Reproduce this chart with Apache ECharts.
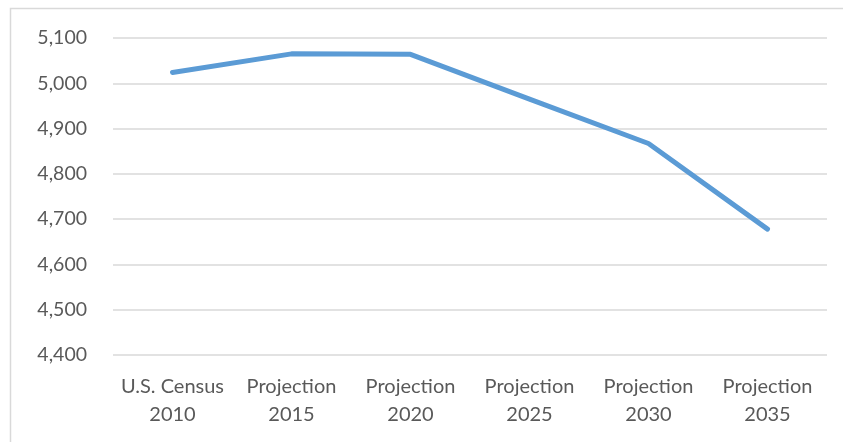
<!DOCTYPE html>
<html>
<head>
<meta charset="utf-8">
<script src="https://cdn.jsdelivr.net/npm/echarts@6/dist/echarts.min.js"></script>
<style>
  html, body { margin: 0; padding: 0; background: #fff; }
  #chart { width: 843px; height: 442px; }
</style>
</head>
<body>
<div id="chart"></div>
<script>
// 数据
var categories = ['U.S. Census\n2010', 'Projection\n2015', 'Projection\n2020', 'Projection\n2025', 'Projection\n2030', 'Projection\n2035'];
var values = [5024, 5065, 5064, 4965, 4867, 4678];
var yMin = 4400;
var yMax = 5100;
var yStep = 100;

var chart = echarts.init(document.getElementById('chart'));

var option = {
  animation: false,
  backgroundColor: '#ffffff',
  grid: {
    left: 113,
    right: 16,
    top: 38,
    bottom: 87
  },
  // 外框
  graphic: [
    {
      type: 'rect',
      silent: true,
      shape: { x: 10.5, y: 8.5, width: 900, height: 500 },
      style: { fill: 'none', stroke: '#d9d9d9', lineWidth: 1.5 }
    }
  ],
  xAxis: {
    type: 'category',
    data: categories,
    boundaryGap: true,
    axisLine: { show: false },
    axisTick: { show: false },
    axisLabel: {
      color: '#595959',
      fontFamily: 'Lato',
      fontSize: 20,
      lineHeight: 28,
      margin: 18,
      interval: 0
    }
  },
  yAxis: {
    type: 'value',
    min: yMin,
    max: yMax,
    interval: yStep,
    axisLine: { show: false },
    axisTick: { show: false },
    axisLabel: {
      color: '#595959',
      fontFamily: 'Lato',
      fontSize: 19.5,
      margin: 26,
      formatter: function (v) { return v.toLocaleString('en-US'); }
    },
    splitLine: {
      lineStyle: { color: '#d9d9d9', width: 1.5 }
    }
  },
  series: [
    {
      type: 'line',
      data: values,
      symbol: 'none',
      lineStyle: { color: '#5b9bd5', width: 5, cap: 'round', join: 'round' }
    }
  ]
};

chart.setOption(option);
</script>
</body>
</html>
